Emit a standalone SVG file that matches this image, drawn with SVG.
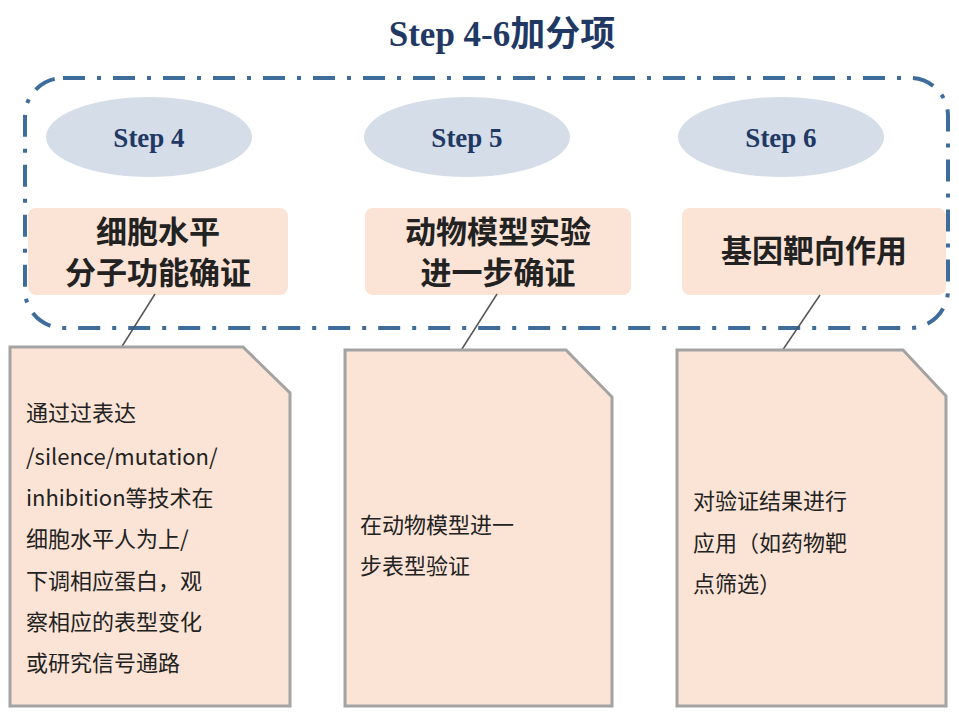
<svg xmlns="http://www.w3.org/2000/svg" width="959" height="720" viewBox="0 0 959 720">
<style>
.ell{fill:#d5dde9}
.st{font-family:"Liberation Serif",serif;font-weight:bold;font-size:27px;fill:#1f3864;text-anchor:middle}
.lab{fill:#fbe4d6}
.lt{font-family:"Noto Sans CJK SC",sans-serif;font-weight:bold;font-size:31px;fill:#222;text-anchor:middle}
.note{fill:#fbe4d6;stroke:#a3a3a3;stroke-width:3}
.nt{font-family:"Noto Sans CJK SC",sans-serif;font-size:22px;fill:#222}
.con line{stroke:#555;stroke-width:1.5}
</style>
<rect width="959" height="720" fill="#fff"/>
<text x="502" y="46" font-family="Liberation Serif,Noto Sans CJK SC,serif" font-weight="bold" font-size="35" fill="#1f3864" text-anchor="middle">Step 4-6加分项</text>
<rect x="25" y="78" width="923" height="250" rx="38" fill="none" stroke="#3e6d9c" stroke-width="4" stroke-dasharray="22,12,4,12"/>
<g id="s4"><ellipse class="ell" cx="149" cy="137" rx="103" ry="40"/><text class="st" x="149" y="147">Step 4</text></g>
<g id="s5"><ellipse class="ell" cx="467" cy="137" rx="103" ry="40"/><text class="st" x="467" y="147">Step 5</text></g>
<g id="s6"><ellipse class="ell" cx="781" cy="137" rx="103" ry="40"/><text class="st" x="781" y="147">Step 6</text></g>
<g id="l4"><rect class="lab" x="28" y="208" width="260" height="87" rx="8"/><text class="lt" x="158" y="243">细胞水平</text><text class="lt" x="158" y="284">分子功能确证</text></g>
<g id="l5"><rect class="lab" x="365" y="208" width="266" height="87" rx="8"/><text class="lt" x="498" y="243">动物模型实验</text><text class="lt" x="498" y="284">进一步确证</text></g>
<g id="l6"><rect class="lab" x="682" y="208" width="264" height="87" rx="8"/><text class="lt" x="814" y="262">基因靶向作用</text></g>
<g class="con">
<line x1="155" y1="294" x2="121" y2="348"/>
<line x1="497" y1="294" x2="460" y2="352"/>
<line x1="820" y1="295" x2="782" y2="351"/>
</g>
<g id="n4"><path class="note" d="M10,347 H243 L290,393 V706 H10 Z"/>
<text class="nt" x="26" y="421">通过过表达</text>
<text class="nt" x="26" y="465">/silence/mutation/</text>
<text class="nt" x="26" y="506">inhibition等技术在</text>
<text class="nt" x="26" y="547">细胞水平人为上/</text>
<text class="nt" x="26" y="589">下调相应蛋白，观</text>
<text class="nt" x="26" y="630">察相应的表型变化</text>
<text class="nt" x="26" y="671">或研究信号通路</text></g>
<g id="n5"><path class="note" d="M345,350 H566 L612,397 V706 H345 Z"/>
<text class="nt" x="360" y="533">在动物模型进一</text>
<text class="nt" x="360" y="574">步表型验证</text></g>
<g id="n6"><path class="note" d="M677,350 H903 L946,396 V706 H677 Z"/>
<text class="nt" x="693" y="509">对验证结果进行</text>
<text class="nt" x="693" y="551">应用（如药物靶</text>
<text class="nt" x="693" y="592">点筛选）</text></g>
</svg>
